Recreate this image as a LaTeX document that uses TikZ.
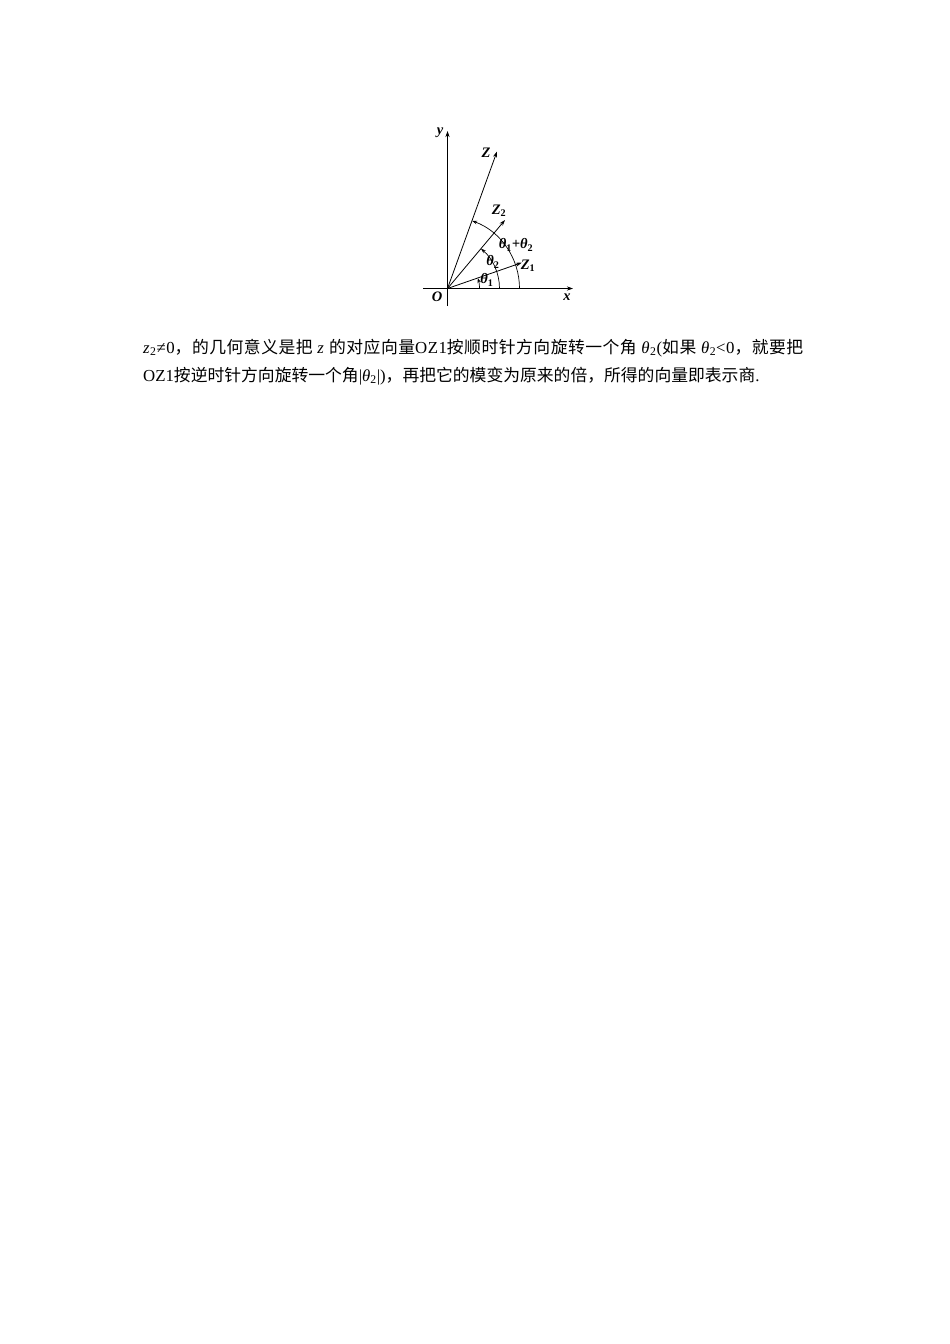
\documentclass[tikz,border=0pt]{standalone}
\usepackage{fontspec}
\setmainfont{Liberation Serif}
\newfontfamily\cjk{Noto Sans CJK SC}
\newfontfamily\cjkwide[LetterSpace=3]{Noto Sans CJK SC}
\newfontfamily\serifwide[LetterSpace=3]{Liberation Serif}
\newcommand\lsub[1]{\textsubscript{\upshape #1}}
\usetikzlibrary{arrows.meta}
\begin{document}
\begin{tikzpicture}[x=1pt,y=-1pt,
  axis/.style={line width=0.8pt,-{Stealth[length=6pt,width=4pt]}},
  vec/.style={line width=0.8pt,-{Stealth[length=6pt,width=4pt]}},
  arcarrow/.style={line width=0.7pt,-{Stealth[length=5pt,width=3.5pt]}},
  lab/.style={font=\fontsize{14.5}{14.5}\selectfont\bfseries\itshape,inner sep=0pt},
  txt/.style={font=\fontsize{16.8}{20}\selectfont,inner sep=0pt,anchor=base west}]
\useasboundingbox (0,0) rectangle (950,1344);
\coordinate (O) at (447.5,288.5);
\coordinate (xs) at (423,288.5);
\coordinate (xe) at (573,288.5);
\coordinate (ys) at (447.5,306);
\coordinate (ye) at (447.5,131);
\coordinate (Z1) at (521.7,262.7);
\coordinate (Z2) at (505,220);
\coordinate (Z) at (497,151.5);
\draw[axis] (xs) -- (xe);
\draw[axis] (ys) -- (ye);
\draw[vec] (O) -- (Z1);
\draw[vec] (O) -- (Z2);
\draw[vec] (O) -- (Z);
\draw[arcarrow] ([xshift=32pt]O) arc[start angle=0,end angle=-19,radius=32];
\draw[arcarrow] ([xshift=52pt]O) arc[start angle=0,end angle=-50,radius=52];
\draw[arcarrow] ([xshift=72pt]O) arc[start angle=0,end angle=-70,radius=72];
\node[lab] (lx) at (567,297) {x};
\node[lab] (ly) at (440,133) {y};
\node[lab] (lO) at (437,297) {O};
\node[lab] (lZ) at (486,153) {Z};
\node[lab] (lZ2) at (499,211) {Z\lsub{2}};
\node[lab] (lZ1) at (528,266) {Z\lsub{1}};
\node[lab] (lt1) at (487,280) {θ\lsub{1}};
\node[lab] (lt2) at (493,262) {θ\lsub{2}};
\node[lab] (lt12) at (516,245) {θ\lsub{1}+θ\lsub{2}};
\node[txt] (l1) at (143,353) {\serifwide\textit{z}\textsubscript{2}≠0{\cjkwide，的几何意义是把} \textit{z} {\cjkwide 的对应向量}OZ1{\cjkwide 按顺时针方向旋转一个角} \textit{θ}\textsubscript{2}({\cjkwide 如果} \textit{θ}\textsubscript{2}<0{\cjkwide ，就要把}};
\node[txt] (l2) at (143,381) {OZ1{\cjk 按逆时针方向旋转一个角}|\textit{θ}\textsubscript{2}|){\cjk ，再把它的模变为原来的倍，所得的向量即表示商}.};
\end{tikzpicture}
\end{document}
